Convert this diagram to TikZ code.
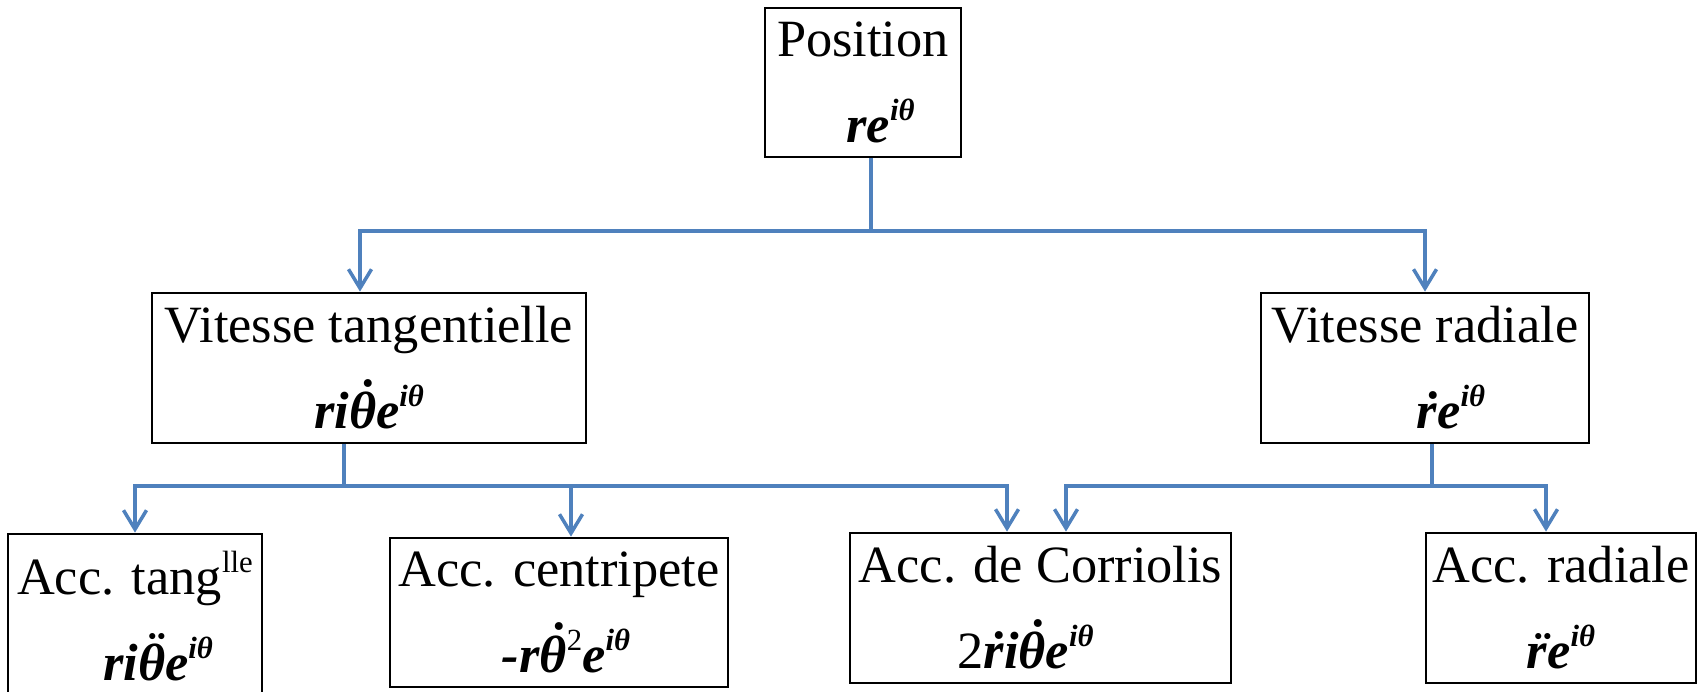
\documentclass[tikz,border=0pt]{standalone}
\usepackage{fontspec}
\setmainfont{Liberation Serif}
\usetikzlibrary{arrows.meta, positioning}
\definecolor{LinkBlue}{HTML}{4F81BD}
\newcommand\mth[1]{{\bfseries\itshape #1}}
\newcommand\expo[1]{\raisebox{0.42em}{\fontsize{17.5}{17.5}\selectfont #1}}
\newcommand\accon[2]{\leavevmode\setbox0\hbox{#2}\rlap{\copy0}\hbox to\wd0{\hss\raisebox{\dimexpr\ht0-1ex\relax}{\kern.1em #1}\hss}}

\begin{document}
\begin{tikzpicture}[x=0.02cm, y=-0.02cm,
        kbox/.style={rectangle, draw=black, line width=1.6pt, inner sep=0pt, align=center, font=\fontsize{29.8}{48.9}\selectfont},
        lnk/.style={LinkBlue, line width=2pt},
        arr/.style={lnk, -{Straight Barb[length=0.38cm, width=0.46cm]}}
      ]
        \useasboundingbox (0,0) rectangle (1702,691);
        \clip (0,0) rectangle (1702,691);

        \node[kbox, minimum width=3.92cm, minimum height=2.98cm] (pos) at (863,82.5) {Position \\ \hspace*{0.7cm}\mth{re\expo{iθ}}};
        \node[kbox, minimum width=8.68cm, minimum height=3cm] (vt) at (369,368) {Vitesse tangentielle \\ \mth{ri\accon{˙}{θ}e\expo{iθ}}};
        \node[kbox, minimum width=6.56cm, minimum height=3cm] (vr) at (1425,368) {Vitesse radiale \\ \hspace*{1.04cm}\mth{\accon{˙}{r}e\expo{iθ}}};
        \node[kbox, minimum width=5.08cm, minimum height=3.3cm] (at) at (135,616.5) {Acc. tang\expo{lle} \\ \hspace*{0.92cm}\mth{ri\accon{¨}{θ}e\expo{iθ}}};
        \node[kbox, minimum width=6.76cm, minimum height=2.98cm] (ct) at (559,612.5) {Acc. centripete \\ \hspace*{0.28cm}\mth{-r\accon{˙}{θ}}\expo{2}\mth{e\expo{iθ}}};
        \node[kbox, minimum width=7.62cm, minimum height=3cm] (co) at (1040.5,608) {Acc. de Corriolis \\ 2\mth{\accon{˙}{r}i\accon{˙}{θ}e\expo{iθ}}\hspace*{0.6cm}};
        \node[kbox, minimum width=5.4cm, minimum height=3cm] (ar) at (1561,608) {Acc. radiale \\ \mth{\accon{¨}{r}e\expo{iθ}}};

        \coordinate (top) at (871,231);
        \coordinate (midl) at (344,486);
        \coordinate (midr) at (1432,486);

        \draw[lnk] (pos.south -| top) -- (top);
        \draw[arr] (top) -| ([xshift=-0.18cm]vt.north);
        \draw[arr] (top) -| (vr.north);
        \draw[lnk] (vt.south -| midl) -- (midl);
        \draw[arr] (midl) -| (at.north);
        \draw[arr] (midl) -| ([xshift=0.24cm]ct.north);
        \draw[arr] (midl) -| ([xshift=-0.67cm]co.north);
        \draw[lnk] (vr.south -| midr) -- (midr);
        \draw[arr] (midr) -| ([xshift=0.51cm]co.north);
        \draw[arr] (midr) -| ([xshift=-0.3cm]ar.north);
      \end{tikzpicture}
\end{document}
